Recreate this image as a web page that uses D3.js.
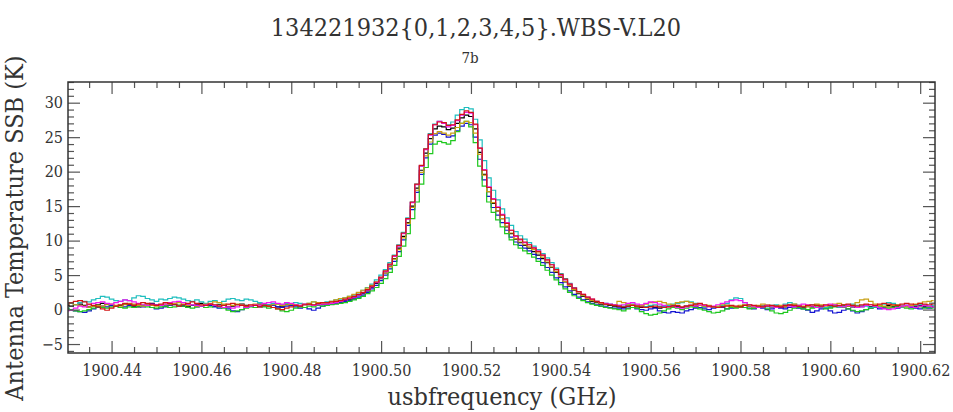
<!DOCTYPE html>
<html>
<head>
<meta charset="utf-8">
<script src="https://cdn.jsdelivr.net/npm/d3@7"></script>
<style>
  body { margin: 0; background: #fff; }
  svg { display: block; }
  text { font-family: 'DejaVu Serif Condensed', 'DejaVu Serif', serif; fill: #333; }
</style>
</head>
<body>
<div id="chart_svg"></div>
<script>
// channel grid (GHz): first channel and channel width
const freqStart = 1900.430
const freqStep = 0.001

const xMajorTicks = [1900.44, 1900.46, 1900.48, 1900.50, 1900.52, 1900.54, 1900.56, 1900.58, 1900.60, 1900.62]
const yMajorTicks = [-5, 0, 5, 10, 15, 20, 25, 30]

// antenna temperature per channel (K), one list per dataset
const tBlack = [
  0.6,0.5,0.7,0.8,0.6,0.4,0.5,0.7,0.9,0.8, 0.6,0.5,0.6,0.8,0.7,0.5,0.4,0.6,0.8,0.9,
  0.7,0.6,0.5,0.7,0.8,0.6,0.5,0.4,0.6,0.7, 0.9,0.8,0.6,0.5,0.7,0.6,0.4,0.5,0.7,0.8,
  0.6,0.5,0.6,0.8,0.7,0.5,0.6,0.4,0.5,0.7, 0.8,0.6,0.5,0.7,0.8,0.6,0.7,0.8,
  0.8,0.9,1.0,1.2,1.3,1.5,1.7,2.0,2.3,2.7, 3.2,3.8,4.5,5.3,6.3,7.4,8.9,10.6,12.6,15.0,
  17.6,20.2,22.7,24.8,26.2,26.6,26.5,26.1,26.3,27.0, 27.8,28.2,28.0,26.2,22.8,19.6,17.1,15.4,14.3,13.2,
  12.0,11.0,10.2,9.7,9.3,8.9,8.4,7.9,7.4,6.8, 6.1,5.4,4.7,4.0,3.4,2.8,2.3,1.9,1.5,1.2,
  1.0,0.8,0.7,0.6,0.5,
  0.4,0.3,0.5,0.6,0.4,0.3,0.4,0.5,0.3,0.2, 0.4,0.5,0.6,0.4,0.3,0.5,0.6,0.5,0.3,0.4,
  0.5,0.4,0.3,0.5,0.6,0.4,0.3,0.4,0.6,0.5, 0.4,0.3,0.5,0.6,0.4,0.5,0.3,0.4,0.6,0.5,
  0.4,0.3,0.5,0.4,0.6,0.5,0.3,0.4,0.5,0.4, 0.6,0.5,0.4,0.3,0.5,0.6,0.4,0.5,0.3,0.4,
  0.6,0.5,0.4,0.5,0.6,0.4,0.5,0.6,0.5,0.4, 0.5
]
const tBlue = [
  0.2,0.0,-0.2,-0.3,-0.4,-0.2,0.1,0.3,0.5,0.4, 0.6,0.5,0.3,0.4,0.6,0.7,0.5,0.4,0.6,0.3,
  0.1,0.2,0.4,0.6,0.7,0.5,0.6,0.8,0.6,0.4, 0.5,0.7,0.6,0.4,0.2,0.3,0.1,-0.2,-0.3,0.0,
  0.3,0.5,0.6,0.4,0.5,0.7,0.6,0.4,0.3,0.5, 0.6,0.4,0.2,0.3,0.1,-0.1,0.2,0.5,
  0.7,0.8,0.9,1.0,1.2,1.3,1.5,1.8,2.1,2.5, 3.0,3.5,4.2,5.0,5.9,7.0,8.4,10.1,12.2,14.5,
  17.0,19.6,22.0,24.0,25.3,25.6,25.4,25.0,25.2,25.9, 26.6,27.0,26.8,25.0,21.8,18.8,16.4,14.8,13.7,12.6,
  11.5,10.5,9.8,9.3,8.9,8.5,8.0,7.4,6.8,6.1, 5.4,4.6,3.9,3.3,2.7,2.2,1.8,1.4,1.1,0.9,
  0.7,0.5,0.4,0.3,0.2,
  0.2,0.1,0.2,0.3,0.1,0.0,-0.1,0.1,0.2,-0.2, -0.4,-0.5,-0.3,-0.4,-0.5,-0.2,0.0,0.2,0.3,0.1,
  0.0,0.2,0.4,0.3,0.1,0.2,0.4,0.5,0.3,0.2, 0.1,0.3,0.2,0.0,0.1,0.3,0.2,0.1,0.3,0.4,
  0.2,0.1,-0.1,-0.4,-0.2,0.1,0.2,-0.2,-0.5,-0.4, -0.1,0.1,-0.2,-0.5,-0.3,0.0,0.2,0.3,0.1,0.2,
  0.4,0.3,0.2,0.4,0.5,0.3,0.2,0.1,0.3,0.2, 0.3
]
const tRed = [
  0.8,1.0,1.2,1.3,1.1,0.8,0.6,0.4,0.1,-0.1, 0.2,0.5,0.7,0.9,0.8,0.6,0.8,1.0,0.9,0.7,
  0.6,0.8,1.0,0.9,0.7,0.5,0.7,0.9,1.1,0.9, 0.7,0.6,0.8,0.7,0.5,0.6,0.8,0.9,0.7,0.6,
  0.5,0.7,0.6,0.4,0.6,0.5,0.3,0.1,0.0,0.2, 0.4,0.6,0.5,0.7,0.8,0.7,0.9,1.0,
  1.0,1.1,1.2,1.3,1.5,1.7,1.9,2.2,2.5,2.9, 3.4,4.0,4.7,5.6,6.6,7.8,9.3,11.1,13.2,15.6,
  18.2,20.9,23.3,25.4,26.8,27.2,27.1,26.7,26.8,27.5, 28.3,28.8,28.6,26.9,23.4,20.2,17.7,16.0,14.8,13.7,
  12.5,11.5,10.7,10.2,9.8,9.4,8.9,8.4,7.9,7.2, 6.5,5.8,5.1,4.4,3.7,3.1,2.6,2.2,1.8,1.5,
  1.2,1.0,0.8,0.7,0.6,
  0.5,0.4,0.5,0.6,0.5,0.4,0.3,0.4,0.5,0.4, 0.3,0.4,0.5,0.6,0.4,0.5,0.6,0.8,0.9,0.7,
  0.5,0.4,0.3,0.4,0.5,0.6,0.5,0.4,0.6,0.7, 0.6,0.5,0.4,0.5,0.6,0.5,0.4,0.6,0.7,0.6,
  0.5,0.4,0.6,0.7,0.6,0.5,0.7,0.6,0.5,0.6, 0.7,0.8,0.6,0.5,0.7,0.8,0.7,0.6,0.8,0.9,
  0.8,0.7,0.6,0.8,0.9,0.8,0.7,0.9,0.8,0.7, 0.8
]
const tGreen = [
  0.2,0.0,-0.2,-0.3,-0.2,0.0,0.2,0.4,0.3,0.2, 0.4,0.5,0.3,0.2,0.4,0.3,0.5,0.6,0.4,0.3,
  0.2,0.4,0.5,0.3,0.4,0.6,0.5,0.3,0.2,0.4, 0.5,0.3,0.4,0.6,0.4,0.2,-0.1,-0.3,-0.2,0.0,
  0.2,0.4,0.3,0.5,0.4,0.2,0.3,0.1,-0.2,-0.3, -0.1,0.2,0.4,0.3,0.5,0.4,0.6,0.5,
  0.6,0.7,0.8,0.9,1.0,1.2,1.4,1.6,1.9,2.3, 2.7,3.2,3.8,4.5,5.4,6.4,7.7,9.2,11.0,13.2,
  15.6,18.2,20.6,22.6,24.0,24.4,24.2,24.0,24.5,25.8, 27.0,27.3,26.5,24.2,20.8,17.9,15.6,14.1,13.0,12.0,
  11.0,10.1,9.4,8.9,8.5,8.1,7.6,7.0,6.4,5.7, 5.0,4.3,3.6,3.0,2.5,2.0,1.6,1.3,1.0,0.8,
  0.6,0.5,0.3,0.2,0.1,
  0.0,-0.2,0.1,0.3,0.2,-0.3,-0.6,-0.8,-0.7,-0.5, -0.2,0.1,0.3,0.2,0.0,0.2,0.4,0.3,0.1,-0.1,
  -0.3,-0.5,-0.4,-0.2,0.1,0.3,0.2,0.4,0.3,0.1, 0.2,0.4,0.3,0.1,-0.2,-0.5,-0.6,-0.4,-0.1,0.2,
  0.3,0.1,0.0,0.2,0.4,0.3,0.1,0.2,0.4,0.5, 0.3,0.1,-0.1,-0.3,-0.2,0.0,0.2,0.3,0.5,0.4,
  0.2,0.3,0.5,0.4,0.2,0.1,0.3,0.4,0.2,0.3, 0.2
]
const tCyan = [
  0.8,0.9,0.7,1.0,1.2,1.1,1.4,1.6,1.9,1.8, 1.5,1.3,1.2,1.4,1.3,1.7,2.0,1.9,1.6,1.4,
  1.2,1.5,1.4,1.6,1.8,1.7,1.5,1.3,1.2,1.4, 1.1,0.9,1.2,1.3,1.0,1.2,1.5,1.6,1.4,1.3,
  1.5,1.4,1.2,1.0,0.8,0.7,0.9,0.8,0.7,0.9, 0.8,1.0,0.9,0.8,0.9,1.1,1.0,0.9,
  1.1,1.2,1.4,1.5,1.7,1.9,2.1,2.4,2.8,3.2, 3.7,4.3,5.0,5.8,6.8,7.9,9.4,11.2,13.3,15.6,
  18.2,20.8,23.3,25.5,26.9,27.3,27.1,26.8,27.2,28.2, 29.0,29.3,29.1,27.6,24.6,21.6,19.1,17.3,15.9,14.6,
  13.3,12.2,11.3,10.7,10.2,9.7,9.2,8.7,8.1,7.5, 6.8,6.0,5.2,4.5,3.8,3.2,2.6,2.1,1.7,1.4,
  1.2,1.0,0.9,0.8,0.7,
  0.6,0.5,0.7,0.8,0.6,0.5,0.4,0.6,0.7,0.5, 0.4,0.6,0.8,0.9,1.0,1.2,1.1,0.9,0.6,0.4,
  0.5,0.3,0.4,0.6,0.9,1.4,1.7,1.6,1.0,0.6, 0.4,0.5,0.3,0.4,0.6,0.7,0.5,0.8,1.0,0.8,
  0.6,0.4,0.5,0.7,0.6,0.4,0.3,0.5,0.6,0.4, 0.5,0.7,0.8,0.6,0.4,0.5,0.3,0.4,0.6,0.8,
  1.0,0.9,0.7,0.6,0.4,0.5,0.6,0.8,0.7,0.5, 0.6
]
const tMagenta = [
  -0.2,-0.1,0.2,0.5,0.4,0.7,0.9,1.0,1.1,0.9, 0.8,1.0,1.2,1.4,1.3,1.1,0.9,0.7,0.6,0.8,
  0.7,0.6,0.8,1.0,1.1,1.2,1.0,0.8,0.7,0.6, 0.5,0.7,0.8,0.6,0.5,0.3,0.4,0.2,0.4,0.6,
  0.3,0.5,0.7,0.6,0.9,1.0,1.1,0.9,0.8,1.0, 0.9,0.7,0.6,0.8,0.7,0.6,0.7,0.8,
  0.8,0.9,1.0,1.2,1.4,1.6,1.8,2.1,2.4,2.8, 3.3,3.9,4.6,5.5,6.5,7.7,9.2,11.0,13.1,15.5,
  18.1,20.8,23.2,25.3,26.8,27.3,27.0,26.5,26.7,27.4, 28.2,28.6,28.5,26.8,23.4,20.3,17.8,16.1,14.9,13.8,
  12.6,11.5,10.6,10.1,9.7,9.4,9.0,8.5,7.9,7.2, 6.5,5.8,5.0,4.3,3.7,3.1,2.6,2.2,1.8,1.5,
  1.2,1.0,0.9,0.8,0.7,
  0.6,0.7,0.9,1.0,0.8,0.7,0.9,1.1,1.0,0.8, 0.6,0.4,0.5,0.3,0.2,0.4,0.6,0.5,0.7,0.6,
  0.4,0.5,0.7,0.9,1.1,1.3,1.4,1.3,1.0,0.7, 0.5,0.3,0.4,0.6,0.5,0.3,0.4,0.6,0.5,0.4,
  0.6,0.8,0.7,0.5,0.3,0.4,0.6,0.8,0.7,0.5, 0.4,0.6,0.5,0.3,0.4,0.6,0.7,0.5,0.3,0.1,
  0.0,0.1,0.3,0.5,0.6,0.4,0.3,0.5,0.6,0.5, 0.4
]
const tGold = [
  0.8,0.9,0.7,0.6,0.5,0.4,0.5,0.6,0.5,0.7, 0.8,0.6,0.5,0.7,0.9,0.8,0.6,0.5,0.7,0.6,
  0.5,0.6,0.8,0.7,0.9,1.0,0.8,0.6,0.7,0.5, 0.6,0.8,0.9,1.1,1.0,0.8,0.7,0.6,0.8,0.7,
  0.5,0.6,0.8,0.7,0.6,0.5,0.7,0.8,0.6,0.7, 0.8,0.7,0.6,0.8,0.9,1.1,1.0,0.9,
  1.0,1.2,1.4,1.6,1.7,1.9,2.2,2.5,2.8,3.1, 3.5,4.0,4.6,5.3,6.2,7.3,8.7,10.4,12.5,14.8,
  17.3,19.9,22.3,24.3,25.5,25.8,25.6,25.3,25.6,26.4, 27.0,27.3,27.1,25.6,22.5,19.5,17.1,15.5,14.3,13.2,
  12.1,11.1,10.3,9.8,9.4,9.1,8.7,8.2,7.6,6.9, 6.2,5.5,4.8,4.1,3.5,2.9,2.4,2.0,1.6,1.3,
  1.1,0.9,0.8,0.7,0.6,
  1.2,1.0,0.8,0.7,0.5,0.6,0.8,1.0,1.1,1.2, 1.0,0.8,0.7,1.0,1.1,1.2,1.0,0.8,0.6,0.5,
  0.6,0.4,0.5,0.7,0.6,0.5,0.4,0.6,0.7,0.5, 0.4,0.6,0.8,0.7,0.5,0.4,0.6,0.5,0.7,0.8,
  0.6,0.5,0.4,0.6,0.8,0.7,0.5,0.6,0.8,0.9, 0.7,0.5,0.6,1.0,1.4,1.5,1.2,0.8,0.6,0.5,
  0.4,0.6,0.7,0.5,0.4,0.6,0.8,0.9,1.1,1.2, 1.3
]

// draw order: later ones end up on top
const seriesValues = [tBlack, tBlue, tGreen, tCyan, tGold, tMagenta, tRed]
const seriesColors = ['#000000', '#1414d2', '#1ec81e', '#1ebebe', '#c8a014', '#f014f0', '#d21414']

class SpectrumChart {
  constructor(args) {
    const def = {
      el: '#chart_svg',
      title: '134221932{0,1,2,3,4,5}.WBS-V.L20',
      subtitle: '7b',
      xLabel: 'usbfrequency (GHz)',
      yLabel: 'Antenna Temperature SSB (K)',
      width: 953,
      height: 412,
      marginTop: 82,
      marginBottom: 59,
      marginLeft: 68,
      marginRight: 18,
      xDomain: [1900.4303, 1900.6233],
      yDomain: [-6.3, 33],
      majorTick: 12,
      minorTick: 6
    }
    const vis = this
    Object.assign(def, args)
    Object.assign(vis, def)
    vis.initVis()
    vis.drawLines()
    vis.drawAxes()
    vis.drawLabels()
  }

  get innerW() {
    return this.width - this.marginLeft - this.marginRight
  }

  get innerH() {
    return this.height - this.marginTop - this.marginBottom
  }

  initVis() {
    const vis = this
    vis.svg = d3
      .select(vis.el)
      .append('svg')
      .attr('width', vis.width)
      .attr('height', vis.height)
    vis.svg.append('defs').append('clipPath').attr('id', 'clip')
      .append('rect')
      .attr('width', vis.innerW)
      .attr('height', vis.innerH)
    vis.view = vis.svg.append('g')
      .attr('transform', `translate(${vis.marginLeft},${vis.marginTop})`)
    vis.xScale = d3.scaleLinear().domain(vis.xDomain).range([0, vis.innerW])
    vis.yScale = d3.scaleLinear().domain(vis.yDomain).range([vis.innerH, 0])
  }

  drawLines() {
    const vis = this
    const line = d3.line()
      .x((d, i) => vis.xScale(freqStart + i * freqStep))
      .y(d => vis.yScale(d))
      .curve(d3.curveStep)
    vis.view.append('g')
      .attr('clip-path', 'url(#clip)')
      .selectAll('.line')
      .data(seriesValues)
      .enter()
      .append('path')
      .attr('class', 'line')
      .attr('fill', 'none')
      .attr('stroke', (d, i) => seriesColors[i])
      .attr('stroke-width', 1.2)
      .attr('d', line)
  }

  drawAxes() {
    const vis = this
    const { xScale, yScale, innerW, innerH, majorTick, minorTick } = vis
    const xMinor = d3.range(1900.435, 1900.621, 0.005).filter(v => !xMajorTicks.some(t => Math.abs(t - v) < 1e-6))
    const yMinor = d3.range(-6, 34, 1).filter(v => v % 5 !== 0)
    const fmtY = d => (d < 0 ? '\u2212' + Math.abs(d) : String(d))
    const fmtX = d => d.toFixed(2)

    const axes = [
      { gen: d3.axisBottom, scale: xScale, at: `translate(0,${innerH})`, major: xMajorTicks, minor: xMinor, fmt: fmtX, pad: 12 },
      { gen: d3.axisTop, scale: xScale, at: 'translate(0,0)', major: xMajorTicks, minor: xMinor, fmt: null },
      { gen: d3.axisLeft, scale: yScale, at: 'translate(0,0)', major: yMajorTicks, minor: yMinor, fmt: fmtY, pad: 5 },
      { gen: d3.axisRight, scale: yScale, at: `translate(${innerW},0)`, major: yMajorTicks, minor: yMinor, fmt: null }
    ]
    axes.forEach(a => {
      const gMinor = vis.view.append('g').attr('transform', a.at)
        .call(a.gen(a.scale).tickValues(a.minor).tickSize(-minorTick).tickSizeOuter(0).tickFormat(''))
      const gMajor = vis.view.append('g').attr('transform', a.at)
        .call(a.gen(a.scale).tickValues(a.major).tickSize(-majorTick).tickSizeOuter(0)
          .tickPadding(a.fmt ? a.pad : 0)
          .tickFormat(a.fmt ? a.fmt : ''))
      ;[gMinor, gMajor].forEach(g => {
        g.select('.domain').remove()
        g.selectAll('line').attr('stroke', '#555').attr('stroke-width', 1.2)
        g.selectAll('text')
          .attr('font-family', "'DejaVu Serif Condensed', 'DejaVu Serif', serif")
          .attr('font-size', 16)
          .attr('fill', '#333')
      })
      if (!a.fmt) gMajor.selectAll('text').remove()
    })

    vis.view.append('rect')
      .attr('width', innerW)
      .attr('height', innerH)
      .attr('fill', 'none')
      .attr('stroke', '#333')
      .attr('stroke-width', 1.5)
  }

  drawLabels() {
    const vis = this
    vis.svg.append('text')
      .attr('x', 476).attr('y', 36)
      .attr('text-anchor', 'middle')
      .attr('font-size', 25)
      .text(vis.title)
    vis.svg.append('text')
      .attr('x', 470).attr('y', 63)
      .attr('text-anchor', 'middle')
      .attr('font-size', 15)
      .text(vis.subtitle)
    vis.svg.append('text')
      .attr('x', 502).attr('y', 405)
      .attr('text-anchor', 'middle')
      .attr('font-size', 25)
      .text(vis.xLabel)
    vis.svg.append('text')
      .attr('transform', 'translate(23,228) rotate(-90)')
      .attr('text-anchor', 'middle')
      .attr('font-size', 25)
      .text(vis.yLabel)
  }
}

new SpectrumChart({})
</script>
</body>
</html>
